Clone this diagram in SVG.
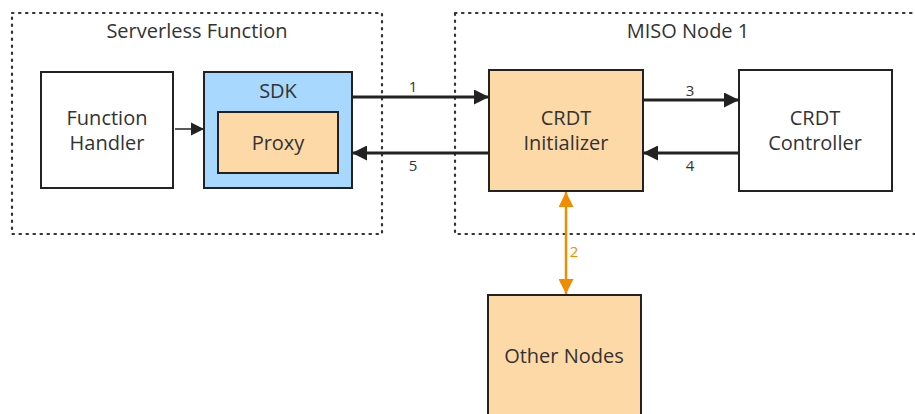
<svg xmlns="http://www.w3.org/2000/svg" width="915" height="414" viewBox="0 0 915 414">
  <defs>
    <marker id="arrow" viewBox="0 0 10 10" refX="10" refY="5" markerWidth="5" markerHeight="5" orient="auto-start-reverse" markerUnits="strokeWidth">
      <path d="M0,0 L10,5 L0,10 z" fill="#222"/>
    </marker>
    <marker id="arrowSmall" viewBox="0 0 10 10" refX="10" refY="5" markerWidth="9" markerHeight="9" orient="auto" markerUnits="strokeWidth">
      <path d="M0,0 L10,5 L0,10 z" fill="#222"/>
    </marker>
    <marker id="arrowOrange" viewBox="0 0 10 10" refX="10" refY="5" markerWidth="6" markerHeight="6" orient="auto-start-reverse" markerUnits="strokeWidth">
      <path d="M0,0 L10,5 L0,10 z" fill="#f08c00"/>
    </marker>
  </defs>
  <style>
    text { font-family: "Open Sans", "Noto Sans", sans-serif; fill: #333; text-anchor: middle; }
    .title { font-size: 20px; }
    .label { font-size: 20px; }
    .num { font-size: 15px; }
    .group { fill: none; stroke: #333; stroke-width: 2.2; stroke-dasharray: 1.5 5.5; stroke-linecap: round; }
    .box { stroke: #222; stroke-width: 2; }
    .white { fill: #fff; }
    .peach { fill: #fed9a8; }
    .blue { fill: #a8d8fe; }
    .edge { fill: none; stroke: #222; stroke-width: 3; }
  </style>
  <rect width="915" height="414" fill="#fff"/>

  <!-- containers -->
  <g id="serverless-function">
    <rect class="group" x="12" y="13" width="370" height="221"/>
    <text class="title" x="197" y="38">Serverless Function</text>
  </g>
  <g id="miso-node-1">
    <rect class="group" x="455" y="13" width="480" height="221"/>
    <text class="title" x="688" y="38">MISO Node 1</text>
  </g>

  <!-- nodes -->
  <g id="function-handler">
    <rect class="box white" x="41" y="72" width="132" height="116"/>
    <text class="label" x="107" y="125">Function</text>
    <text class="label" x="107" y="150">Handler</text>
  </g>
  <g id="sdk">
    <rect class="box blue" x="204" y="72" width="148" height="116" stroke-width="2.5"/>
    <text class="label" x="278" y="98">SDK</text>
  </g>
  <g id="proxy">
    <rect class="box peach" x="218" y="112" width="120" height="61"/>
    <text class="label" x="278" y="150">Proxy</text>
  </g>
  <g id="crdt-initializer">
    <rect class="box peach" x="489" y="70" width="154" height="121"/>
    <text class="label" x="566" y="125">CRDT</text>
    <text class="label" x="566" y="150">Initializer</text>
  </g>
  <g id="crdt-controller">
    <rect class="box white" x="739" y="70" width="153" height="121"/>
    <text class="label" x="815" y="125">CRDT</text>
    <text class="label" x="815" y="150">Controller</text>
  </g>
  <g id="other-nodes">
    <rect class="box peach" x="488" y="295" width="153" height="130"/>
    <text class="label" x="564" y="363">Other Nodes</text>
  </g>

  <!-- connectors -->
  <g id="connectors">
    <line x1="175" y1="129" x2="204" y2="129" stroke="#222" stroke-width="1.5" marker-end="url(#arrowSmall)"/>
    <line class="edge" x1="352" y1="97" x2="489" y2="97" marker-end="url(#arrow)"/>
    <text class="num" x="413" y="92">1</text>
    <line class="edge" x1="489" y1="153" x2="352" y2="153" marker-end="url(#arrow)"/>
    <text class="num" x="413" y="171">5</text>
    <line class="edge" x1="643" y1="100" x2="739" y2="100" marker-end="url(#arrow)"/>
    <text class="num" x="690" y="96">3</text>
    <line class="edge" x1="739" y1="153" x2="643" y2="153" marker-end="url(#arrow)"/>
    <text class="num" x="690" y="171">4</text>
    <line x1="566" y1="192" x2="566" y2="294" stroke="#f08c00" stroke-width="2.5" marker-start="url(#arrowOrange)" marker-end="url(#arrowOrange)"/>
    <text class="num" x="574" y="257" style="fill:#f08c00">2</text>
  </g>
</svg>
